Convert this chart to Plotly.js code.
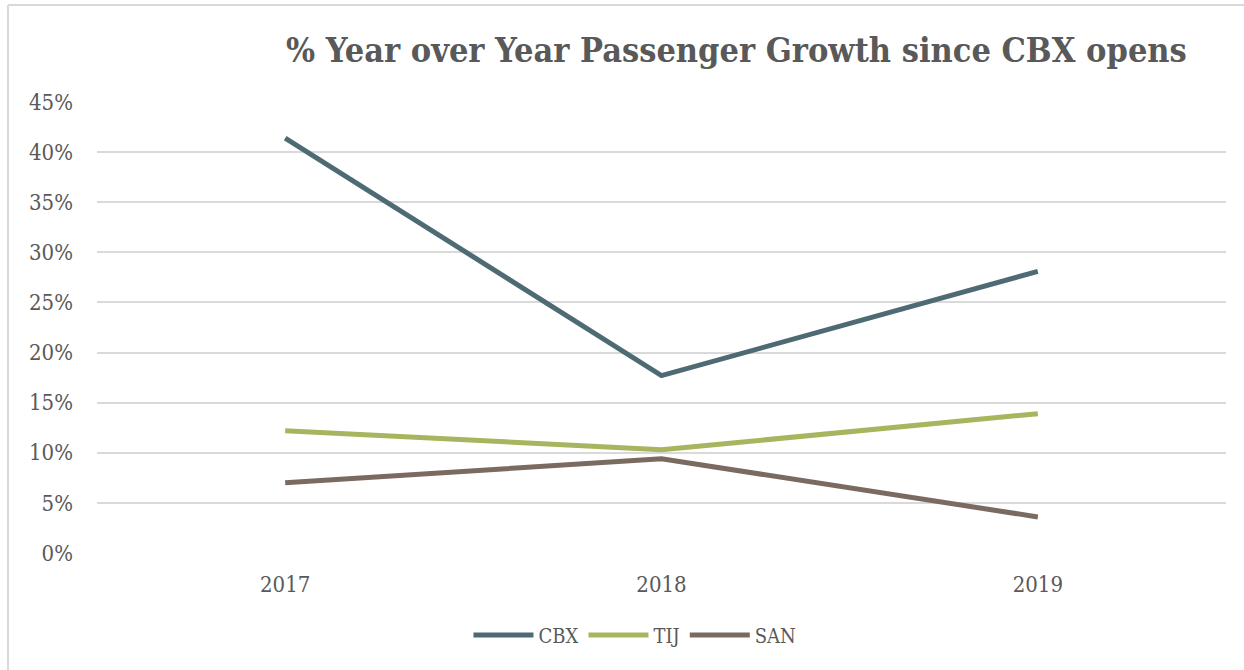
<!DOCTYPE html>
<html>
<head>
<meta charset="utf-8">
<script src="https://cdn.plot.ly/plotly-3.0.1.min.js"></script>
<style>
html,body{margin:0;padding:0;background:#fff;}
#chart{width:1244px;height:670px;}
</style>
</head>
<body>
<div id="chart"></div>
<script>
const years = ['2017', '2018', '2019'];
const cbx = [0.414, 0.177, 0.281];
const tij = [0.122, 0.103, 0.139];
const san = [0.070, 0.094, 0.036];
const yTicks = [0, 0.05, 0.10, 0.15, 0.20, 0.25, 0.30, 0.35, 0.40, 0.45];

const FONT = '"DejaVu Serif Condensed", "Liberation Serif", serif';

function series(name, y, color) {
  return {
    type: 'scatter', mode: 'lines', name: name, x: years, y: y,
    line: {color: color, width: 5},
    hoverinfo: 'skip'
  };
}

const data = [
  series('CBX', cbx, '#4e6b74'),
  series('TIJ', tij, '#a9b45e'),
  series('SAN', san, '#7b6a60')
];

const ml = 97, mr = 18, mt = 102, mb = 117;
const pw = 1244 - ml - mr, ph = 670 - mt - mb;
const px = v => (v - ml) / pw;
const py = v => 1 - (v - mt) / ph;

const layout = {
  width: 1244, height: 670,
  margin: {l: ml, r: mr, t: mt, b: mb},
  paper_bgcolor: '#ffffff', plot_bgcolor: '#ffffff',
  font: {family: FONT, color: '#595959', size: 22},
  title: {
    text: '<b>% Year over Year Passenger Growth since CBX opens</b>',
    font: {family: FONT, size: 34, color: '#595959'},
    x: 0.592, xanchor: 'center', y: 0.925, yanchor: 'middle'
  },
  xaxis: {
    type: 'category', range: [-0.5, 2.5],
    showgrid: false, zeroline: false, showline: false,
    ticks: '', tickfont: {family: FONT, size: 22, color: '#595959'},
    ticklabelstandoff: 16, fixedrange: true
  },
  yaxis: {
    range: [0, 0.45], tickvals: yTicks, tickformat: '.0%',
    showgrid: true, gridcolor: '#d9d9d9', gridwidth: 2,
    zeroline: false, showline: false, ticks: '',
    tickfont: {family: FONT, size: 22, color: '#595959'},
    ticklabelstandoff: 23, fixedrange: true
  },
  showlegend: true,
  legend: {
    orientation: 'h', x: 0.4765, xanchor: 'center', y: -0.182, yanchor: 'middle',
    font: {family: FONT, size: 20, color: '#595959'},
    itemwidth: 60, tracegroupgap: 0
  },
  shapes: [
    {type: 'line', xref: 'paper', yref: 'paper', x0: px(8), x1: px(1250), y0: py(5), y1: py(5), line: {color: '#d9d9d9', width: 2}},
    {type: 'line', xref: 'paper', yref: 'paper', x0: px(8), x1: px(8), y0: py(5), y1: py(680), line: {color: '#d9d9d9', width: 2}}
  ]
};

Plotly.newPlot('chart', data, layout, {displayModeBar: false, staticPlot: true});
</script>
</body>
</html>
